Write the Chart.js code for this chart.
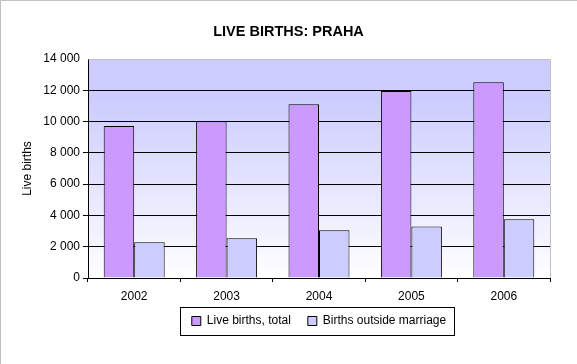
<!DOCTYPE html>
<html>
<head>
<meta charset="utf-8">
<script src="https://cdn.jsdelivr.net/npm/chart.js"></script>
<style>
  body { margin: 0; background: #fff; }
  #wrap { width: 577px; height: 364px; position: relative; }
</style>
</head>
<body>
<div id="wrap"><canvas id="c" width="577" height="364"></canvas></div>
<script>
// data
const years = ['2002', '2003', '2004', '2005', '2006'];
const liveBirthsTotal = [9720, 10020, 11100, 11950, 12510];
const birthsOutsideMarriage = [2280, 2540, 3050, 3300, 3750];
const yTicks = [0, 2000, 4000, 6000, 8000, 10000, 12000, 14000];

Chart.defaults.font.family = '"Liberation Sans", Arial, sans-serif';
Chart.defaults.font.size = 12;
Chart.defaults.color = '#000';

function fmt(v) {
    return String(v).replace(/\B(?=(\d{3})+(?!\d))/g, ' ');
}

// plot background gradient, frame lines, legend box
const decor = {
    id: 'decor',
    afterLayout(chart) {
        // title across the whole width
        const tb = chart.titleBlock;
        tb.left = 0; tb.right = chart.width; tb.width = chart.width;
        // legend centred under the plot area
        const lg = chart.legend;
        lg.left = chart.chartArea.left;
        lg.right = chart.chartArea.right;
        lg.width = lg.right - lg.left;
        lg.top = 298;
        lg.bottom = lg.top + lg.height;
    },
    beforeDraw(chart) {
        const { ctx, chartArea: a } = chart;
        const g = ctx.createLinearGradient(0, a.top, 0, a.bottom);
        g.addColorStop(0, '#ccccff');
        g.addColorStop(0.18, '#ccccff');
        g.addColorStop(1, '#ffffff');
        ctx.save();
        ctx.fillStyle = g;
        ctx.fillRect(a.left, a.top, a.right - a.left, a.bottom - a.top);
        ctx.restore();
    },
    afterDraw(chart) {
        const { ctx, chartArea: a } = chart;
        ctx.save();
        ctx.lineWidth = 1;
        ctx.strokeStyle = '#c0c0c0';
        ctx.beginPath();
        ctx.moveTo(0.5, chart.height);
        ctx.lineTo(0.5, 0.5);
        ctx.lineTo(chart.width, 0.5);
        ctx.stroke();
        ctx.beginPath();
        ctx.moveTo(Math.round(a.left) + 0.5, Math.round(a.top) + 0.5);
        ctx.lineTo(Math.round(a.right) + 0.5, Math.round(a.top) + 0.5);
        ctx.lineTo(Math.round(a.right) + 0.5, Math.round(a.bottom));
        ctx.stroke();
        const hb = chart.legend.legendHitBoxes;
        if (hb && hb.length) {
            const l = Math.min(...hb.map(h => h.left));
            const r = Math.max(...hb.map(h => h.left + h.width));
            const cy = hb[0].top + hb[0].height / 2;
            ctx.strokeStyle = '#000';
            ctx.strokeRect(Math.round(l - 12) + 0.5, Math.round(cy - 14) + 0.5,
                Math.round(r - l + 20), 28);
        }
        ctx.restore();
    }
};

new Chart(document.getElementById('c'), {
    type: 'bar',
    data: {
        labels: years,
        datasets: [
            {
                label: 'Live births, total',
                data: liveBirthsTotal,
                backgroundColor: '#cc99ff',
                borderColor: '#000',
                borderWidth: 1
            },
            {
                label: 'Births outside marriage',
                data: birthsOutsideMarriage,
                backgroundColor: '#ccccff',
                borderColor: '#000',
                borderWidth: 1
            }
        ]
    },
    options: {
        responsive: false,
        animation: false,
        layout: { padding: { left: 0, right: 27, top: 0, bottom: 0 } },
        datasets: {
            bar: { categoryPercentage: 0.66, barPercentage: 1.0 }
        },
        scales: {
            x: {
                afterFit(s) { s.height = 47; },
                grid: {
                    offset: true,
                    drawOnChartArea: false,
                    color: '#000',
                    tickLength: 4
                },
                border: { color: '#000' },
                ticks: { padding: 7 }
            },
            y: {
                min: 0,
                max: 14000,
                afterBuildTicks(s) { s.ticks = yTicks.map(v => ({ value: v })); },
                afterFit(s) { s.width = 88; },
                ticks: { callback: v => fmt(v), padding: 3 },
                grid: {
                    color: c => (c.tick && c.tick.value === 14000 ? 'rgba(0,0,0,0)' : '#000'),
                    tickLength: 5
                },
                border: { color: '#000' },
                title: {
                    display: true,
                    text: 'Live births',
                    padding: { top: 20, bottom: 0 }
                }
            }
        },
        plugins: {
            title: {
                display: true,
                text: 'LIVE BIRTHS: PRAHA',
                font: { size: 14.5, weight: 'bold' },
                padding: { top: 23, bottom: 18.6 }
            },
            legend: {
                position: 'bottom',
                labels: {
                    boxWidth: 9,
                    boxHeight: 9,
                    padding: 17,
                    font: { size: 12 }
                }
            },
            tooltip: { enabled: false }
        }
    },
    plugins: [decor]
});
</script>
</body>
</html>
